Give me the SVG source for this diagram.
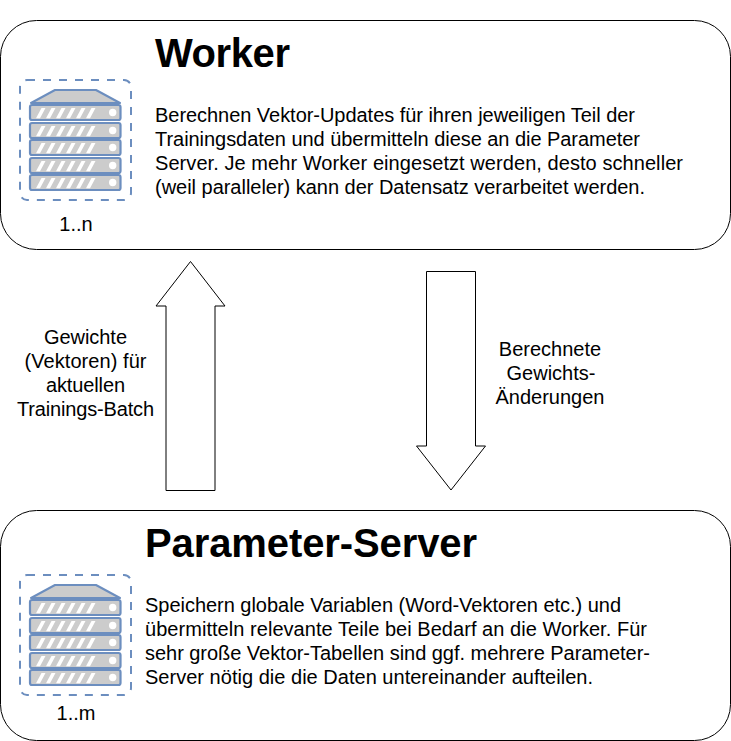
<svg xmlns="http://www.w3.org/2000/svg" width="731" height="741" viewBox="0 0 731 741">
<style>
text{font-family:"Liberation Sans",Arial,sans-serif;fill:#000}
.b{font-size:20px;text-anchor:middle}
.d{font-size:20px}
.t{font-size:40px;font-weight:bold}
.box{fill:#fff;stroke:#000;stroke-width:1}
.arrow{fill:#fff;stroke:#000;stroke-width:1}
.u{fill:#ccc;stroke:#6c8ebf;stroke-width:2.200}
.s{fill:#fff}
</style>
<defs>
<g id="unit">
<rect class="u" x="30" y="0" width="90.500" height="15" rx="2"/>
<path class="s" d="M36 13.300L41.500 3H45.500L40 13.300ZM46 13.300L51.500 3H55.500L50 13.300ZM56 13.300L61.500 3H65.500L60 13.300ZM66 13.300L71.500 3H75.500L70 13.300ZM76 13.300L81.500 3H85.500L80 13.300ZM86 13.300L91.500 3H95.500L90 13.300Z"/>
<circle class="s" cx="112.700" cy="7.500" r="3.700"/>
</g>
<g id="server">
<rect x="20" y="80" width="111" height="120" rx="7" fill="none" stroke="#6c8ebf" stroke-width="2" stroke-dasharray="8 8"/>
<path d="M31 103L55 90H96L120 103Z" fill="#ccc" stroke="#6c8ebf" stroke-width="2" stroke-linejoin="round"/>
<use href="#unit" y="105"/>
<use href="#unit" y="123"/>
<use href="#unit" y="140"/>
<use href="#unit" y="158"/>
<use href="#unit" y="175"/>
</g>
</defs>
<g id="connectors">
<path id="arrow-up" class="arrow" d="M166 490.500V306H156L190.500 261.500L225 306H215V490.500Z"/>
<path id="arrow-down" class="arrow" d="M426.500 271.500H475.500V446H485.500L451 490L416.500 446H426.500Z"/>
</g>
<g id="worker">
<rect class="box" x="0.500" y="20.500" width="730" height="229" rx="36"/>
<use href="#server"/>
<text class="b" x="76" y="231">1..n</text>
<text class="t" x="155" y="67" textLength="135">Worker</text>
<text class="d" x="155" y="122" textLength="480">Berechnen Vektor-Updates für ihren jeweiligen Teil der</text>
<text class="d" x="155" y="146" textLength="485">Trainingsdaten und übermitteln diese an die Parameter</text>
<text class="d" x="155" y="170" textLength="528">Server. Je mehr Worker eingesetzt werden, desto schneller</text>
<text class="d" x="155" y="194" textLength="490">(weil paralleler) kann der Datensatz verarbeitet werden.</text>
</g>
<g id="parameter-server">
<rect class="box" x="0.500" y="510.500" width="730" height="230" rx="36"/>
<use href="#server" y="495"/>
<text class="b" x="76" y="720">1..m</text>
<text class="t" x="145" y="557" textLength="332">Parameter-Server</text>
<text class="d" x="145" y="612" textLength="476">Speichern globale Variablen (Word-Vektoren etc.) und</text>
<text class="d" x="145" y="636" textLength="502">übermitteln relevante Teile bei Bedarf an die Worker. Für</text>
<text class="d" x="145" y="660" textLength="505">sehr große Vektor-Tabellen sind ggf. mehrere Parameter-</text>
<text class="d" x="145" y="684" textLength="448">Server nötig die die Daten untereinander aufteilen.</text>
</g>
<g id="label-up">
<text class="b" x="85.500" y="344" textLength="83">Gewichte</text>
<text class="b" x="85.500" y="368" textLength="122">(Vektoren) für</text>
<text class="b" x="85.500" y="392" textLength="79">aktuellen</text>
<text class="b" x="85.500" y="416" textLength="137">Trainings-Batch</text>
</g>
<g id="label-down">
<text class="b" x="550" y="356">Berechnete</text>
<text class="b" x="551" y="380">Gewichts-</text>
<text class="b" x="550" y="404">Änderungen</text>
</g>
</svg>
